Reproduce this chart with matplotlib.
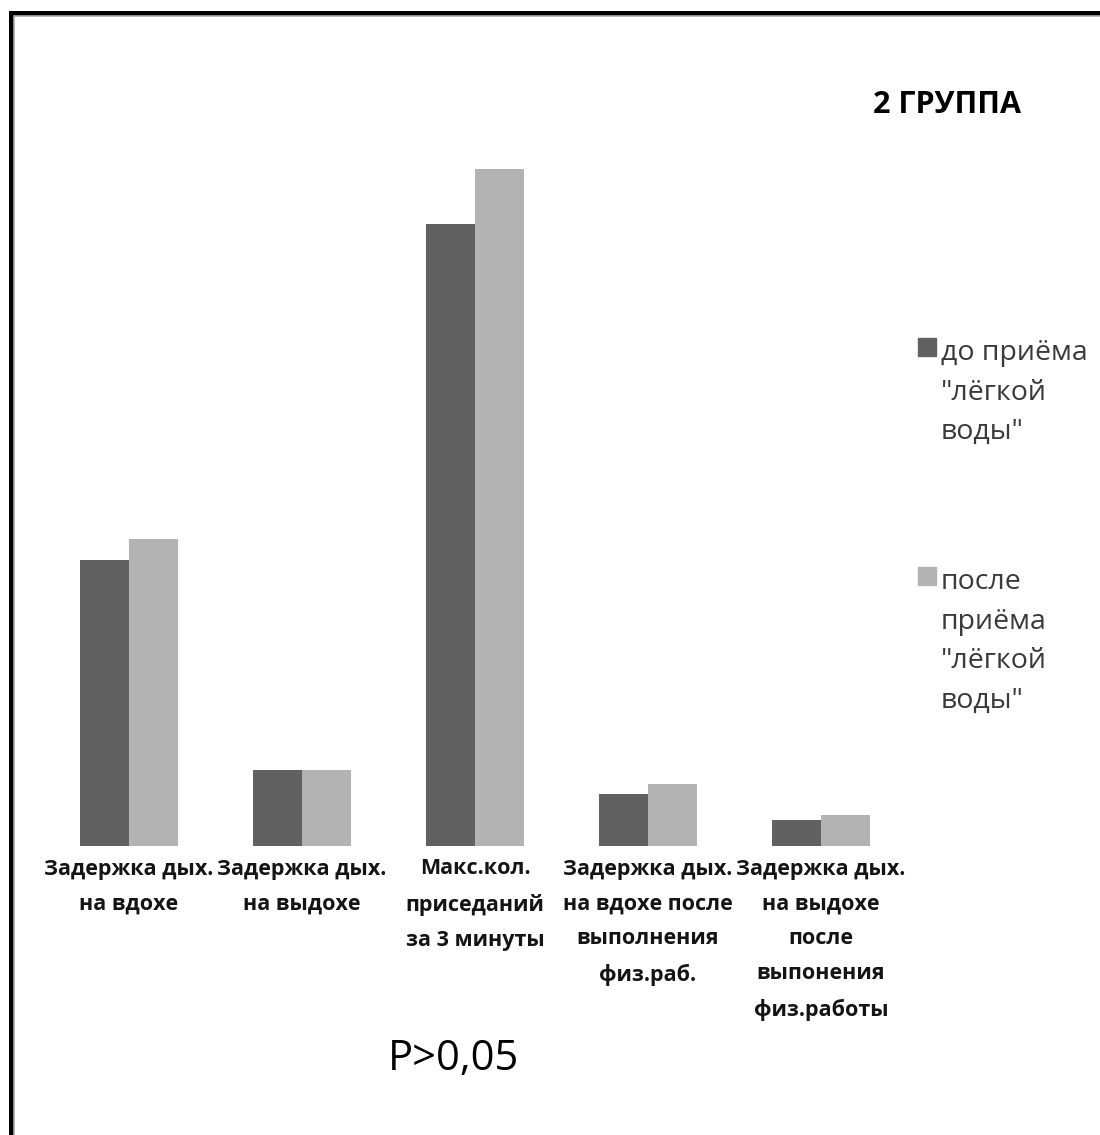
import matplotlib
matplotlib.use("Agg")
import matplotlib.pyplot as plt
import numpy as np
from matplotlib.lines import Line2D

plt.rcParams['font.family'] = ['Open Sans', 'DejaVu Sans']

categories = [
    "Задержка дых.\nна вдохе",
    "Задержка дых.\nна выдохе",
    "Макс.кол.\nприседаний\nза 3 минуты",
    "Задержка дых.\nна вдохе после\nвыполнения\nфиз.раб.",
    "Задержка дых.\nна выдохе\nпосле\nвыпонения\nфиз.работы",
]
before = [57.2, 15.2, 124.4, 10.4, 5.2]
after = [61.4, 15.2, 135.4, 12.4, 6.2]
series_names = ['до приёма\n"лёгкой\nводы"', 'после\nприёма\n"лёгкой\nводы"']
colors = ["#616161", "#b3b3b3"]

W, H = 1100, 1135
fig = plt.figure(figsize=(W / 100, H / 100), dpi=100)
fig.patch.set_facecolor("white")

# axes placement in pixels
left_px, right_px = 42.5, 907.5
base_px, top_px = 846, 100
ax = fig.add_axes([left_px / W, (H - base_px) / H, (right_px - left_px) / W, (base_px - top_px) / H])
ymax = (base_px - top_px) / 5.0
x = np.arange(len(categories))
bw = 49 / 173
ax.bar(x - bw / 2, before, width=bw, color=colors[0], label=series_names[0])
ax.bar(x + bw / 2, after, width=bw, color=colors[1], label=series_names[1])
ax.set_xlim(-0.5, len(categories) - 0.5)
ax.set_ylim(0, ymax)
ax.set_xticks(x)
ax.set_xticklabels(categories, fontsize=15.5, fontweight="bold", linespacing=1.86,
                   color="#141414")
ax.tick_params(axis="x", length=0, pad=9)
ax.set_yticks([])
for s in ax.spines.values():
    s.set_visible(False)

def fig_xy(px, py):
    return px / W, 1 - py / H

# legend drawn as handles in figure coordinates
for name, col, ytop in zip(series_names, colors, [338, 567]):
    sx, sy = fig_xy(918, ytop + 18)
    fig.patches.append(plt.Rectangle((sx, sy), 18 / W, 18 / H, color=col,
                                     transform=fig.transFigure, figure=fig))
    tx, ty = fig_xy(941, ytop + 1)
    fig.text(tx, ty, name, fontsize=20.5, va="top", ha="left", color="#3a3a3a",
             linespacing=1.55)

# title and note
fig.text(*fig_xy(947, 105), "2 ГРУППА", fontsize=22, fontweight="bold",
         ha="center", va="center")
fig.text(*fig_xy(454, 1059), "P>0,05", fontsize=30, ha="center", va="center")

# frame lines (top and left)
fig.add_artist(Line2D([10.5 / W, 10.5 / W, 1], [0, 1 - 12.5 / H, 1 - 12.5 / H],
                      color="black", lw=3.6, solid_joinstyle="miter",
                      transform=fig.transFigure))
fig.add_artist(Line2D([13.8 / W, 13.8 / W, 1], [0, 1 - 15.8 / H, 1 - 15.8 / H],
                      color="#a8a8a8", lw=1.2, solid_joinstyle="miter",
                      transform=fig.transFigure))

fig.savefig("out.png", dpi=100, facecolor="white")
